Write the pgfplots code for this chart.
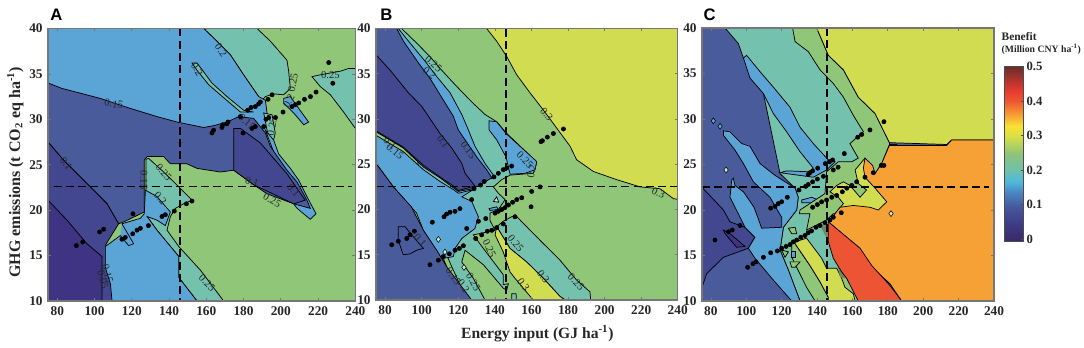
\documentclass[border=0pt]{standalone}
\usepackage{fontspec}
\setmainfont{Liberation Serif}
\newfontfamily\sansb{Liberation Sans}
\usepackage{pgfplots}
\pgfplotsset{compat=1.18}
\definecolor{cDark}{HTML}{3F3483}
\definecolor{cViolet}{HTML}{43478F}
\definecolor{cIndigo}{HTML}{4A5B9C}
\definecolor{cBlue}{HTML}{5BA4D6}
\definecolor{cTeal}{HTML}{74C1AE}
\definecolor{cGreen}{HTML}{8FC677}
\definecolor{cLime}{HTML}{D2DC50}
\definecolor{cOrange}{HTML}{F6A136}
\definecolor{cRed}{HTML}{EC5433}
\definecolor{cEdge}{HTML}{6E8B5E}
\definecolor{cPale}{HTML}{D8EBD0}
\definecolor{cBox}{HTML}{777777}
\pgfplotsset{
  colormap={benefit}{rgb255(0pt)=(58,40,104); rgb255(5pt)=(62,60,134); rgb255(10pt)=(70,90,158); rgb255(14pt)=(74,135,195); rgb255(17pt)=(80,184,220); rgb255(20pt)=(110,192,176); rgb255(25pt)=(141,196,120); rgb255(30pt)=(217,223,69); rgb255(33pt)=(248,226,52); rgb255(36pt)=(247,162,53); rgb255(40pt)=(238,90,48); rgb255(43pt)=(233,58,46); rgb255(50pt)=(107,45,45)},
  panel/.style={
    scale only axis, xmin=75, xmax=240, ymin=10, ymax=40,
    xtick={80,100,...,240}, ytick={10,15,...,40},
    tick align=inside, major tick length=2.2pt,
    axis line style={draw=cBox,line width=0.9pt},
    tick style={draw=cBox,line width=0.5pt},
    axis on top, anchor=south west, clip=true,
    tick label style={font=\bfseries\fontsize{10}{12}\selectfont,text=black!85,/pgf/number format/assume math mode=true},
    xticklabel style={yshift=-1pt}, yticklabel style={xshift=-0.5pt},
  }
}
\newcommand{\reg}[2]{\addplot[fill=#1,draw=black,line width=0.55pt,forget plot] coordinates {#2} --cycle;}
\newcommand{\flatreg}[2]{\addplot[fill=#1,draw=none,forget plot] coordinates {#2} --cycle;}
\newcommand{\lab}[4]{\node[font=\fontsize{8}{9}\selectfont,text=black!85,rotate=#3,inner sep=0pt] at (axis cs:#1,#2) {#4};}
\newcommand{\pts}[1]{\addplot[only marks,mark=*,mark size=1.6pt,mark options={fill=black,draw=none},forget plot] coordinates {#1};}
\newcommand{\chips}[2]{\addplot[only marks,mark=diamond*,mark size=2.2pt,mark options={fill=#1,draw=black,line width=0.4pt},forget plot] coordinates {#2};}
\newcommand{\dashl}[2]{\addplot[draw=black,line width=1.3pt,dash pattern=on 6pt off 3.2pt,forget plot] coordinates {#1}; \addplot[draw=black,line width=1.3pt,dash pattern=on 6pt off 3.2pt,forget plot] coordinates {#2};}
\begin{document}
\begin{tikzpicture}
\path[use as bounding box] (0,0) rectangle (813pt,260.25pt);
%%%%%%%%%%%% A
\begin{axis}[panel, at={(36pt,34.5pt)}, width=230.5pt, height=204.4pt]
\flatreg{cGreen}{(75,10)(240,10)(240,40)(75,40)}
\reg{cTeal}{(216.7,34.7)(221.2,34.9)(232,35.3)(236.4,35.6)(241,35.6)(241,29)(240,29)(233.7,30.8)(226.6,32.7)(221.2,33.6)}
\reg{cTeal}{(158.6,41)(187.2,41)(187.2,40)(194.4,38.6)(203.3,36.5)(204.2,35.3)(205.1,33.4)(201.5,32.7)(196.2,32.8)(191.7,32.5)(189.9,32.1)(188.1,32.5)(180,34.9)(172.9,37.1)(165.7,38.6)(158.6,40)}
\reg{cBlue}{(74,41)(158.6,41)(158.6,40)(165.7,38.6)(172.9,37.1)(180,34.9)(188.1,32.5)(191.7,32.1)(192.6,30.7)(194.8,28.5)(174.7,27.7)(74,32.1)}
\reg{cTeal}{(152.3,36.2)(155,36.2)(163,34)(171.1,32.5)(180,31)(185.4,30.8)(178.3,30.8)(167.5,32.7)(161.3,33.8)(155,35.4)}
\reg{cBlue}{(201.5,32.3)(205.1,32.5)(209.6,31.2)(214.9,29.7)(212.3,29.4)(206.9,30.7)(201.5,31.8)}
\reg{cTeal}{(190.8,30.7)(195.3,30.5)(197,28.5)(195.3,27)(192.6,28.8)}
\reg{cBlue}{(191.7,28.8)(196.2,27.7)(198.8,26.2)(205.1,24.6)(209.6,23.3)(214,21.5)(218.9,19.6)(215.8,19)(208.7,20.2)(206.9,20.7)}
\reg{cIndigo}{(74,34)(75,34)(82.5,33.4)(103.1,32.3)(119.2,31.2)(133.5,30.3)(144.3,29.7)(158.6,29.1)(163.9,29.3)(171.1,29.7)(177.4,30.3)(185.4,30.1)(191.7,28.5)(194.4,27)(203.3,24.4)(208.7,23.1)(214,21.1)(215.8,20.2)(206.9,20.7)(192.6,21.8)(185.4,22.8)(174.7,24.4)(167.5,24.2)(155,24.6)(149.6,25.1)(140.7,25.1)(137.1,25.9)(128.2,25.9)(126.7,25.5)(126.7,19.8)(115.6,18.7)(112.9,18.5)(106.7,20.7)(94.1,23.3)(83.4,25.5)(75,27.5)(74,27.5)}
\reg{cViolet}{(174.7,29)(178.3,29)(189,27.4)(203.3,24)(213.1,21.1)(206.9,20.7)(185.4,22.8)(174.7,24.4)}
\reg{cViolet}{(74,27.5)(75,27.5)(83.4,25.5)(94.1,23.3)(106.7,20.7)(112.9,18.5)(106,16.2)(106,14)(109,12)(110,9)(74,9)}
\reg{cDark}{(74,21.1)(75,21.1)(85.2,18.9)(95.9,16.3)(104,14.9)(104,9)(74,9)}
\reg{cTeal}{(127.6,25.6)(129,25.7)(137.1,24.2)(146,22.4)(152.3,21.1)(147.8,20.7)(143.4,20.2)(140.7,19.3)(138.9,17.8)(145.2,16)(156.8,13.4)(169.3,10)(155,10)(145.2,12.6)(145.2,14.9)(133.5,17.8)(128.2,19.3)(127.6,19.6)}
\flatreg{cBlue}{(113.8,17.2)(118.3,16.1)(121,16.3)(124.6,19.1)(114.7,18.5)}
\reg{cBlue}{(105.8,16)(113.8,17.2)(118.3,16.1)(121,16.3)(114.7,18.5)(124.6,19.1)(126.7,19.6)(127.3,22.2)(133.5,21.5)(140.7,19.8)(138,18.3)(133.5,18.9)(128.2,19.3)(133.5,17.8)(145.2,14.9)(145.2,12.6)(155,10)(155,9)(109.4,9)(109.4,10)(108.5,11.9)(105.8,13.7)}
\lab{167.9}{37.6}{-55}{0.2}\lab{155}{35.5}{-60}{0.2}\lab{110.3}{31.7}{-10}{0.15}\lab{226.6}{34.9}{0}{0.25}
\lab{206.5}{34}{80}{0.25}\lab{204.2}{32}{60}{0.2}\lab{84.8}{25.1}{-55}{0.1}\lab{126.4}{23.3}{-90}{0.15}
\lab{137.1}{24.2}{-50}{0.25}\lab{135.3}{21.3}{-50}{0.2}\lab{160.4}{12}{-45}{0.25}\lab{181.8}{29.7}{-40}{0.15}
\lab{195.3}{29.2}{80}{0.25}\lab{184.5}{23.1}{-15}{0.1}\lab{195.3}{21.1}{-30}{0.25}\lab{206.9}{22.2}{-50}{0.1}
\lab{104.5}{12.3}{-75}{0.05}\lab{107}{13}{-75}{0.15}
\dashl{(145.7,40)(145.7,10)}{(78,22.6)(238,22.6)}
\pts{(225.7,36.25)(227.9,33.97)(218.9,33)(215.9,32.5)(212.7,32.2)(209.6,31.8)(207.8,31.6)(206,31.4)(201.2,30.8)(197.1,30.2)(193.5,30.2)(192,30)(190.8,29.2)(195.3,32.7)(193.1,32.2)(189,31.9)(188.1,31.7)(186.3,31.4)(184,31.3)(182.2,31)(178.3,30.3)(179.7,28.5)(186.3,29.2)(184.5,29)(171.6,29.7)(171,29.5)(168.8,29.4)(168.4,29.1)(163.9,28.8)(163,28.5)(152.3,21)(149.3,20.7)(142.8,19.9)(138,19.5)(136.2,19.3)(128.9,18.3)(124.6,18)(122.8,17.8)(120.5,17.4)(120.6,19.6)(104.9,17.9)(102.7,17.6)(116.5,17)(114.7,16.8)(93.6,16.5)(90.2,16.1)}
\end{axis}
%%%%%%%%%%%% B
\begin{axis}[panel, at={(282pt,35.25pt)}, width=226.3pt, height=203.6pt]
\flatreg{cGreen}{(75,10)(240,10)(240,40)(75,40)}
\reg{cLime}{(135.5,41)(135.5,40)(141,38.6)(146.5,36.9)(151.9,34.9)(159.2,32.9)(166.5,31)(173.8,29)(181.1,27)(184.7,25.5)(193.9,24.2)(206.6,23.3)(219.4,22.5)(230.3,22.3)(237.6,21.2)(241,21.1)(241,41)}
\reg{cTeal}{(89,41)(89,40)(97.2,38.4)(104.5,36.9)(110,35.6)(118.2,33.8)(127.3,31.9)(134.6,30.5)(141,29.7)(146.5,28.4)(153.8,27)(162.9,25.2)(161,24)(148.3,23.8)(143.7,23.3)(139.2,22.5)(141.9,21.8)(145.6,21.1)(141.9,20)(137.3,19.6)(137.3,18.8)(140.1,17.7)(128.2,17.2)(133.7,15.7)(144.6,12.8)(144.6,11.7)(147.4,11.8)(146.5,11.1)(144.6,11.3)(133.7,13.9)(123.7,15.5)(121.9,14.2)(128.2,12.4)(134.6,10)(134.6,9)(127,9)(115.5,14.1)(100.9,21.1)(86.3,41)}
\reg{cBlue}{(136.8,29.8)(141,29.7)(146.1,28.4)(162.9,25.3)(162,24.4)(156.5,24)(148.3,23.9)(146.1,25.8)(141,27.7)(136.8,28.8)}
\reg{cTeal}{(141,18.1)(144.6,18.7)(151,19.4)(157.4,18.1)(164.7,16.6)(175.6,14.4)(184.7,12.2)(192,10.9)(192.4,10)(192.4,9)(178.4,9)(178.4,10)(175.6,10.4)(166.5,12.4)(157.4,14.2)(148.3,15.7)}
\reg{cLime}{(141,18.1)(148.3,15.7)(157.4,14.2)(166.5,12.4)(175.6,10.4)(178.4,10)(178.4,9)(161,9)(161,10)(151,12.4)(148.3,13.1)(144.6,15.3)(140.1,17.2)}
\reg{cBlue}{(84,41)(87.2,41)(87.2,40)(93.6,38.4)(101.8,36.4)(108.2,34.7)(115.5,32.9)(121.9,30.5)(125.5,28.8)(129.1,27)(134.6,25.1)(139.2,23.8)(138.4,23.4)(110,28.4)}
\reg{cIndigo}{(74,41)(86.3,41)(86.3,40)(90,38.6)(98.2,36.2)(104.5,34.5)(111.8,32.1)(117.3,30.3)(120,28.8)(123.7,27.7)(130.1,25.8)(135.5,24.4)(138.3,23.5)(128.2,22.3)(120,22)(117.3,22.4)(110,23.5)(100.9,24.7)(89.9,26.8)(80.8,27.9)(75,28.6)(74,28.6)}
\reg{cViolet}{(74,37.1)(75,37.1)(82.7,35.4)(92.7,32.9)(100,31.4)(110,28.4)(116.4,26.8)(121.9,25.1)(123.7,24)(129.1,22.6)(120,22.1)(117.3,22.6)(110,23.6)(100.9,24.9)(89.9,26.9)(80.8,28)(75,28.7)(74,28.7)}
\reg{cBlue}{(74,28.2)(75,28.2)(80.8,27.5)(89.9,26.4)(100.9,24.4)(110,23.1)(117.3,22.2)(120,21.8)(128.2,22.2)(121.9,21.4)(127.3,20.9)(131,19.2)(129.1,17.9)(121.9,16.8)(118.2,15.7)(117.3,14.8)(111.8,14.6)(113.6,13.7)(100.9,17.7)(97.2,19.6)(84.5,22.5)(75,25.1)(74,25.1)}
\reg{cIndigo}{(74,25.1)(75,25.1)(84.5,22.5)(94.3,20.3)(100.9,17.7)(108.2,15.5)(113.6,13.7)(119.1,12.2)(127.3,10)(127.3,9)(74,9)}
\reg{cIndigo}{(87.2,18.1)(90.9,18.1)(94.5,17.2)(100.9,15.7)(97.2,15.5)(93.6,15.1)(89.9,15)(87.2,16.6)}
\reg{cBlue}{(136.8,20.1)(141,20.3)(141.9,20)(137.3,19.9)}
\reg{cPale}{(139.2,20.9)(141,21.4)(142.1,20.8)}
\reg{cTeal}{(149.2,10.7)(151.6,10.7)(151.9,9)(149.2,9)}
\chips{cPale}{(109.1,16.7)(112.7,15.3)(123.1,13.6)}
\lab{106.4}{36.1}{-40}{0.25}\lab{104.2}{35.1}{-40}{0.2}\lab{85.4}{26.4}{-40}{0.15}\lab{82.7}{27.3}{-40}{0.1}
\lab{111.8}{27.5}{-55}{0.1}\lab{125.5}{26.6}{-55}{0.15}\lab{168.3}{30.5}{-50}{0.3}\lab{229.4}{21.8}{-25}{0.3}
\lab{156.5}{25.5}{-45}{0.25}\lab{160.1}{24.2}{80}{0.2}\lab{99.1}{16.6}{-50}{0.1}\lab{137}{15.7}{-65}{0.25}
\lab{151.4}{16.3}{-50}{0.25}\lab{166.5}{12.6}{-55}{0.3}\lab{184.4}{12}{-45}{0.25}\lab{155.6}{11.7}{-55}{0.3}
\lab{128.2}{12}{-60}{0.25}\lab{117.3}{12.6}{-55}{0.15}\lab{122.8}{11.5}{-55}{0.2}
\dashl{(145.9,40)(145.9,10)}{(75,22.55)(240,22.55)}
\pts{(177.5,28.9)(172,28.4)(168.7,28)(166,27.6)(165.2,27.5)(149.2,24.8)(146.5,24.6)(144.6,24.4)(141.9,24)(139.5,23.6)(134.2,23.1)(132.2,22.7)(128.6,22.3)(127.3,21.1)(164.7,22.5)(160.1,22)(159.8,20.3)(154.7,21.3)(152,21.1)(149.7,20.8)(147.4,20.5)(145.5,20.2)(143.7,20)(141.9,19.8)(140.1,19.6)(151,19.2)(144.6,18.4)(141,18)(138.3,17.7)(135.9,17.6)(132.8,17.2)(129.5,16.8)(135,19)(131,18.7)(124.6,17.9)(120.9,20.1)(118.2,19.8)(115.5,19.7)(113.6,19.5)(112.2,19.2)(105.8,18.6)(122.8,16)(120.6,15.7)(118.2,15.5)(115.1,15.1)(111.8,14.8)(109.1,14.4)(104.5,13.9)(96,17.6)(93.6,17.2)(91.8,16.8)(87.2,16.5)(83.6,16.1)}
\end{axis}
%%%%%%%%%%%% C
\begin{axis}[panel, at={(526.5pt,34.5pt)}, width=219pt, height=204.75pt,
  colormap name=benefit, colorbar, point meta min=-0.006, point meta max=0.5,
  colorbar style={at={(1.0353,0.22)},anchor=south west,width=14.2pt,height=130.7pt,scale only axis,
    ymin=-0.006,ymax=0.5,ytick={0,0.1,0.2,0.3,0.4,0.5},yticklabels={0,0.1,0.2,0.3,0.4,0.5},
    ytick pos=right,yticklabel pos=right,tick align=inside,major tick length=2pt,
    axis line style={draw=black!70,line width=0.5pt},tick style={draw=black!70},
    yticklabel style={font=\bfseries\fontsize{9.5}{12}\selectfont,text=black!85,xshift=-1pt}}]
\flatreg{cIndigo}{(75,10)(240,10)(240,40)(75,40)}
\reg{cViolet}{(74,22.5)(75,22.5)(87.1,20)(90.8,18.7)(99.3,18.1)(104.9,17)(101.2,15.8)(87.1,14.8)(77.6,13)(75,11.5)(74,11.5)}
\reg{cDark}{(87.1,17.8)(90.8,17.4)(99.3,16)(94.6,15.9)(88,17.4)}
\reg{cTeal}{(88,41)(126.2,41)(175.6,26.6)(146.4,17.4)(154,13.5)(156,12)(150,10)(150,9)(130.4,9)(130.4,10)(123.8,13.4)(119.1,15.6)(121,18.1)(128.5,20)(129.4,21.4)(127.6,22.4)(119.1,24)(109.7,32.8)(98.4,36.7)(95.5,38.3)(88,40)}
\reg{cBlue}{(100.2,37)(107.8,35.2)(115.3,33.5)(124.7,31.3)(130.4,29.1)(137.9,27.3)(146.4,25.5)(150.2,25.3)(145.4,24.4)(137.9,23.6)(119.1,24.1)(122.8,24.3)(136,24.2)(137.9,24.6)(130.4,26.4)(122.8,28.6)(115.3,30.6)(109.7,32.8)(102.1,34.5)(98.4,36.7)}
\reg{cBlue}{(87.1,28.7)(90.8,28.6)(97.4,27.3)(102.1,27)(107.8,25.1)(116.3,23.8)(127.6,22.4)(129.4,21.4)(128.5,20)(121,18.1)(119.1,15.6)(123.8,13.4)(130.4,10)(130.4,9)(125.7,9)(125.7,10)(115.3,12.3)(104.9,14.7)(101.2,15.8)(104.9,17)(99.3,18.1)(95.5,19.6)(90.8,21.4)(91.8,23.3)(92.7,23.5)(93.6,22.7)(98.4,22)(104.4,20.3)(108.7,18)(120,18.1)(120,19.2)(113.4,21.4)(104,23.1)(98.4,25.1)(93.6,26.6)(87.1,28.2)}
\reg{cBlue}{(131.3,21.1)(137,21.4)(140.7,21.1)(137,20.8)(131.3,20.8)}
\reg{cGreen}{(126.2,41)(139.8,41)(139.8,40)(146.4,37)(154.9,35.4)(163.3,32.4)(172.8,30.6)(180.9,27.4)(180.9,19.6)(149.2,19.6)(145.4,18.9)(134.1,17.8)(136,19.6)(130,19.6)(130.4,20)(144.5,21.8)(145.4,24.2)(152,25.3)(159.6,25.3)(163.3,25.7)(158.6,27.3)(166.2,28.6)(160.5,30.4)(154.9,32.4)(149.2,33.9)(141.7,35.4)(135.1,37.4)(127.6,38.5)(126.2,40)}
\reg{cLime}{(139.8,41)(139.8,40)(146.4,37)(154.9,35.4)(163.3,32.4)(172.8,30.6)(180.9,27.4)(213.3,27.2)(216.1,27.7)(241,27.7)(241,41)}
\reg{cLime}{(180.9,27.2)(176.5,25.1)(172.8,24)(167.1,25.7)(161.5,24.4)(163.3,22.9)(168,22.2)(164.3,21.4)(158.6,22.7)(154.9,23.1)(151.1,22.7)(147.3,22)(152,21.4)(154.9,20.7)(150.2,19.6)(185,19.6)(185,27.2)}
\reg{cGreen}{(125.7,16.3)(127.6,16.5)(127.6,16.3)(136,13.9)(141.7,12.1)(146.4,10.4)(146.4,9)(138.9,9)(138.9,10)(134.1,11.5)(128.5,13.7)(125.7,14.8)}
\flatreg{cGreen}{(153.9,13.2)(156.7,12.5)(159.6,11.4)(163.3,10)(163.3,9)(155,9)}
\reg{cLime}{(134.1,16.9)(142.6,14.7)(145.4,13.6)(151.1,13.6)(153.9,12.5)(155.8,11.5)(160.5,10.8)(161.5,10)(161.5,9)(146.4,9)(146.4,10.4)(141.7,12.1)(136,13.9)(127.6,16.3)(127.6,16.5)}
\reg{cOrange}{(180.9,27.1)(213.3,27.1)(216.1,27.7)(241,27.7)(241,9)(187.8,9)(187.8,10)(181.2,11.9)(170.9,13.7)(163.3,15.9)(156.7,17)(146.4,18.7)(150.2,19.6)(153,20.3)(160.5,20.5)(169.9,20.3)(174.6,20)(179.4,20.9)(172.8,22.4)(167.1,23.6)(166.2,24.6)(167.1,25.7)(171.4,24.9)(172.8,24)(176.5,25.1)}
\flatreg{cEdge}{(141.7,18.3)(146.4,18.3)(146.4,16.5)(149.2,14.7)(153.9,13.2)(156.7,12.5)(153,12.6)(151.1,14.5)(145.4,16.9)(143.6,17.6)}
\reg{cRed}{(146.4,18.7)(164.3,15.8)(170.9,13.9)(181.2,11.7)(187.8,10)(187.8,9)(163.3,9)(163.3,10)(159.6,11.4)(156.7,12.5)(153.9,13.2)(149.2,14.7)(146.4,16.5)}
\reg{cGreen}{(123.8,18)(127.6,18.1)(128.5,17.4)(125.7,17.4)}
\reg{cBlue}{(125.7,15.4)(127.6,15.4)(127.6,14.8)(125.7,14.8)}
\reg{cGreen}{(120,15.6)(123.8,15.4)(121.9,14.8)}
\reg{cGreen}{(124.7,14.3)(130.4,14.3)(127.6,13.7)(125.7,13.7)}
\chips{cBlue}{(81.4,29.8)(85.2,29.2)}
\chips{cPale}{(88.6,24.4)(181.8,19.6)}
\dashl{(145.6,40)(145.6,10)}{(75,22.55)(237,22.55)}
\pts{(177.8,29.7)(169.9,28.8)(165.2,28.3)(163,28)(155.4,26.2)(151.9,24.7)(149.2,24.4)(148.8,25.5)(147,25.3)(144.7,25.1)(140.4,24.6)(137.5,24.3)(136,24.1)(135,23.9)(177.8,24.9)(176.3,24.9)(171.8,24.1)(167.1,23.6)(162.4,23.1)(159.6,22.7)(156.8,22.4)(154.3,22)(151.1,21.6)(148.3,21.4)(145.4,21.1)(142.6,20.9)(140.2,20.6)(137.5,20.3)(143.6,23.7)(140.2,23.4)(137.5,23.1)(135,22.8)(133.6,22.6)(129.8,22.2)(123.2,21.4)(120,20.9)(118.1,20.7)(116.3,20.4)(113.8,20.2)(153.7,19.7)(149.2,19.2)(147.3,18.9)(144.5,18.6)(141.7,18.3)(139.4,18.1)(136.9,17.7)(135,17.5)(133.2,17.2)(130.8,17)(128.5,16.7)(126.6,16.5)(124.7,16.2)(122.5,16)(120,15.8)(117.6,15.5)(113.8,15.3)(109.7,14.8)(105.5,14.3)(103.8,14.1)(100.8,13.7)(96.5,18.3)(92.1,17.8)(89.9,17.6)(82.3,16.7)}
\end{axis}
%%%%%%%%%%%% text
\node[font=\sansb\bfseries\fontsize{12.5}{14}\selectfont,anchor=base west,inner sep=0pt] at (37.5pt,245pt) {A};
\node[font=\sansb\bfseries\fontsize{12.5}{14}\selectfont,anchor=base west,inner sep=0pt] at (285pt,245pt) {B};
\node[font=\sansb\bfseries\fontsize{12.5}{14}\selectfont,anchor=base west,inner sep=0pt] at (527.5pt,245pt) {C};
\node[font=\bfseries\fontsize{11.7}{14}\selectfont,text=black!85,inner sep=0pt] at (403pt,10pt) {Energy input (GJ ha\textsuperscript{-1})};
\node[font=\bfseries\fontsize{12}{14}\selectfont,text=black!85,rotate=90,inner sep=0pt] at (11.5pt,131pt) {GHG emissions (t CO\textsubscript{2} eq ha\textsuperscript{-1})};
\node[font=\bfseries\fontsize{8.6}{10}\selectfont,text=black!85,anchor=base west,inner sep=0pt] at (751pt,230pt) {Benefit};
\node[font=\bfseries\fontsize{7.3}{8}\selectfont,text=black!85,anchor=base west,inner sep=0pt] at (751pt,220.5pt) {(Million CNY ha\textsuperscript{-1})};
\end{tikzpicture}
\end{document}
